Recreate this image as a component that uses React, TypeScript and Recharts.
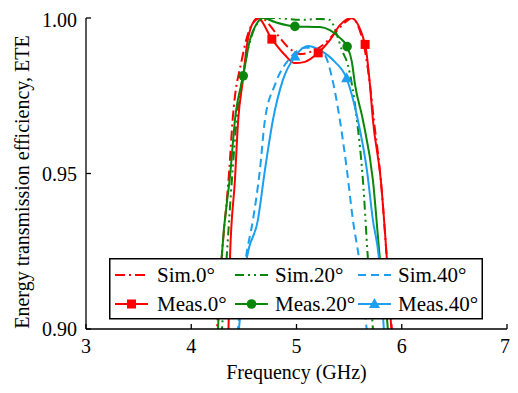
import React from "react";
import { LineChart, Line, XAxis, YAxis } from "recharts";

// frequency (GHz) and ETE
const SIM0_X = [4.224, 4.244, 4.289, 4.361, 4.393, 4.48, 4.54, 4.62, 4.66, 4.811, 4.918, 5.032, 5.156, 5.251, 5.365, 5.476, 5.526, 5.6, 5.64, 5.697, 5.735, 5.801, 5.858, 5.906, 5.93];
const SIM0_Y = [0.89, 0.9, 0.9228, 0.9511, 0.9672, 0.9865, 0.995, 0.9995, 1.0, 0.9949, 0.9907, 0.9884, 0.9894, 0.9913, 0.9952, 0.999, 1.0, 0.9961, 0.9913, 0.9788, 0.9672, 0.9479, 0.9228, 0.9, 0.89];

const MEAS0_X = [4.335, 4.354, 4.368, 4.415, 4.446, 4.491, 4.529, 4.576, 4.633, 4.766, 4.89, 4.985, 5.08, 5.206, 5.317, 5.412, 5.517, 5.652, 5.697, 5.726, 5.801, 5.858, 5.901, 5.92];
const MEAS0_Y = [0.89, 0.9, 0.9228, 0.9479, 0.9672, 0.9801, 0.9913, 0.9978, 1.0, 0.9932, 0.9881, 0.9855, 0.9859, 0.9888, 0.9929, 0.9977, 1.0, 0.9915, 0.9788, 0.9672, 0.9479, 0.9228, 0.9, 0.89];
const MEAS0_MARKS = [4.766, 5.206, 5.652];

const SIM20_X = [4.272, 4.292, 4.336, 4.393, 4.431, 4.5, 4.576, 4.671, 4.795, 5.032, 5.222, 5.317, 5.381, 5.431, 5.488, 5.574, 5.631, 5.678, 5.726, 5.745];
const SIM20_Y = [0.89, 0.9, 0.9228, 0.9511, 0.9672, 0.9833, 0.9945, 0.9994, 1.0, 0.9994, 0.9997, 0.9994, 0.9949, 0.9897, 0.9849, 0.9672, 0.9479, 0.9228, 0.9, 0.89];

const MEAS20_X = [4.235, 4.254, 4.289, 4.374, 4.415, 4.494, 4.557, 4.614, 4.681, 4.795, 4.985, 5.222, 5.317, 5.412, 5.481, 5.526, 5.555, 5.631, 5.726, 5.792, 5.868, 5.89];
const MEAS20_Y = [0.89, 0.9, 0.9228, 0.9511, 0.9672, 0.9814, 0.9929, 0.9977, 1.0, 0.9987, 0.9973, 0.9971, 0.9961, 0.9936, 0.9908, 0.9859, 0.9788, 0.9672, 0.9479, 0.9228, 0.9, 0.89];
const MEAS20_MARKS = [4.494, 4.985, 5.481];

const SIM40_X = [4.42, 4.444, 4.519, 4.586, 4.652, 4.7, 4.795, 4.937, 5.08, 5.156, 5.222, 5.27, 5.336, 5.412, 5.479, 5.536, 5.593, 5.666, 5.69];
const SIM40_Y = [0.89, 0.9, 0.9228, 0.935, 0.9511, 0.9672, 0.9785, 0.9871, 0.9904, 0.9904, 0.9894, 0.9881, 0.981, 0.9672, 0.9511, 0.935, 0.9228, 0.9, 0.89];

const MEAS40_X = [4.43, 4.453, 4.529, 4.633, 4.7, 4.776, 4.871, 4.985, 5.108, 5.222, 5.365, 5.476, 5.583, 5.669, 5.726, 5.783, 5.83, 5.85];
const MEAS40_Y = [0.89, 0.9, 0.9228, 0.935, 0.9511, 0.9672, 0.9801, 0.9876, 0.991, 0.9897, 0.9859, 0.9806, 0.9672, 0.9511, 0.935, 0.9228, 0.9, 0.89];
const MEAS40_MARKS = [4.985, 5.476];

const X_TICKS = [3, 4, 5, 6, 7];
const Y_TICKS = [0.9, 0.95, 1.0];

const FONT = "Liberation Serif, Times New Roman, DejaVu Serif, serif";
const RED = "#ff0000";
const GREEN = "#0a860a";
const BLUE = "#1c9ff0";

type Marker = "square" | "circle" | "triangle" | null;

const zip = (xs: number[], ys: number[]) => xs.map((x, i) => ({ x, y: ys[i] }));

const SERIES = [
  { name: "Sim.0°", data: zip(SIM0_X, SIM0_Y), color: RED, dash: "10 4 2 4", marker: null as Marker, marks: [] as number[] },
  { name: "Sim.20°", data: zip(SIM20_X, SIM20_Y), color: GREEN, dash: "9 4 2 4 2 4", marker: null as Marker, marks: [] as number[] },
  { name: "Sim.40°", data: zip(SIM40_X, SIM40_Y), color: BLUE, dash: "8 5", marker: null as Marker, marks: [] as number[] },
  { name: "Meas.0°", data: zip(MEAS0_X, MEAS0_Y), color: RED, dash: undefined, marker: "square" as Marker, marks: MEAS0_MARKS },
  { name: "Meas.20°", data: zip(MEAS20_X, MEAS20_Y), color: GREEN, dash: undefined, marker: "circle" as Marker, marks: MEAS20_MARKS },
  { name: "Meas.40°", data: zip(MEAS40_X, MEAS40_Y), color: BLUE, dash: undefined, marker: "triangle" as Marker, marks: MEAS40_MARKS },
];

function MarkerShape({ kind, cx, cy, color }: { kind: Marker; cx: number; cy: number; color: string }) {
  if (kind === "square") return <rect x={cx - 4.5} y={cy - 4.5} width={9} height={9} fill={color} />;
  if (kind === "circle") return <circle cx={cx} cy={cy} r={4.8} fill={color} />;
  if (kind === "triangle")
    return <polygon points={`${cx},${cy - 6} ${cx + 5.5},${cy + 4} ${cx - 5.5},${cy + 4}`} fill={color} />;
  return null;
}

const LegendBox = () => {
  const cols = [
    { line: 6, text: 48 },
    { line: 126, text: 166 },
    { line: 249, text: 289 },
  ];
  const rows = [
    { line: 17, text: 24 },
    { line: 46, text: 53 },
  ];
  return (
    <svg
      width={374}
      height={62}
      style={{ position: "absolute", left: 101, top: 250, fontFamily: FONT, fontSize: 21 }}
    >
      <rect x={0.75} y={0.75} width={372.5} height={60} fill="#fff" stroke="#000" strokeWidth={1.5} />
      {SERIES.map((s, i) => {
        const c = cols[i % 3];
        const r = rows[Math.floor(i / 3)];
        return (
          <g key={s.name}>
            <line
              x1={c.line}
              x2={c.line + 33}
              y1={r.line}
              y2={r.line}
              stroke={s.color}
              strokeWidth={2}
              strokeDasharray={s.dash}
            />
            <MarkerShape kind={s.marker} cx={c.line + 16.5} cy={r.line} color={s.color} />
            <text x={c.text} y={r.text} fill="#000" style={{ fontFamily: FONT, fontSize: 21 }}>
              {s.name}
            </text>
          </g>
        );
      })}
    </svg>
  );
};

export default function App() {
  const tickStyle = { fill: "#000", fontSize: 20, fontFamily: FONT };
  const labelStyle = { fontFamily: FONT, fontSize: 20 };
  return (
    <div style={{ position: "relative", width: 502, height: 377, fontFamily: FONT }}>
      <LineChart width={502} height={377} margin={{ top: 10, right: 3, left: 0, bottom: 0 }}>
        <XAxis
          type="number"
          dataKey="x"
          domain={[3, 7]}
          ticks={X_TICKS}
          allowDataOverflow
          height={56}
          stroke="#000"
          strokeWidth={1.3}
          tickSize={-5}
          tickMargin={15}
          tick={tickStyle}
          label={{
            content: (p: any) => (
              <text
                x={p.viewBox.x + p.viewBox.width / 2}
                y={p.viewBox.y + 50}
                textAnchor="middle"
                fill="#000"
                style={labelStyle}
              >
                Frequency (GHz)
              </text>
            ),
          }}
        />
        <XAxis xAxisId="top" orientation="top" type="number" domain={[3, 7]} height={0} tick={false} tickLine={false} stroke="#000" strokeWidth={1.3} />
        <YAxis
          type="number"
          domain={[0.9, 1.0]}
          ticks={Y_TICKS}
          allowDataOverflow
          width={78}
          stroke="#000"
          strokeWidth={1.3}
          tickSize={-5}
          tickMargin={14}
          tick={tickStyle}
          tickFormatter={(v: number) => v.toFixed(2)}
          label={{
            content: () => (
              <text
                x={21}
                y={174}
                transform="rotate(-90, 21, 174)"
                textAnchor="middle"
                fill="#000"
                style={labelStyle}
              >
                Energy transmission efficiency, ETE
              </text>
            ),
          }}
        />
        <YAxis yAxisId="right" orientation="right" domain={[0.9, 1.0]} width={0} tick={false} tickLine={false} stroke="#000" strokeWidth={1.3} />
        {SERIES.map((s) => (
          <Line
            key={s.name}
            data={s.data}
            dataKey="y"
            type="monotone"
            stroke={s.color}
            strokeWidth={2}
            strokeDasharray={s.dash}
            isAnimationActive={false}
            legendType="none"
            dot={(p: any) =>
              s.marker && s.marks.includes(p.payload.x) ? (
                <MarkerShape key={`${s.name}-${p.index}`} kind={s.marker} cx={p.cx} cy={p.cy} color={s.color} />
              ) : (
                <g key={`${s.name}-${p.index}`} />
              )
            }
            activeDot={false}
          />
        ))}
      </LineChart>
      <LegendBox />
    </div>
  );
}
